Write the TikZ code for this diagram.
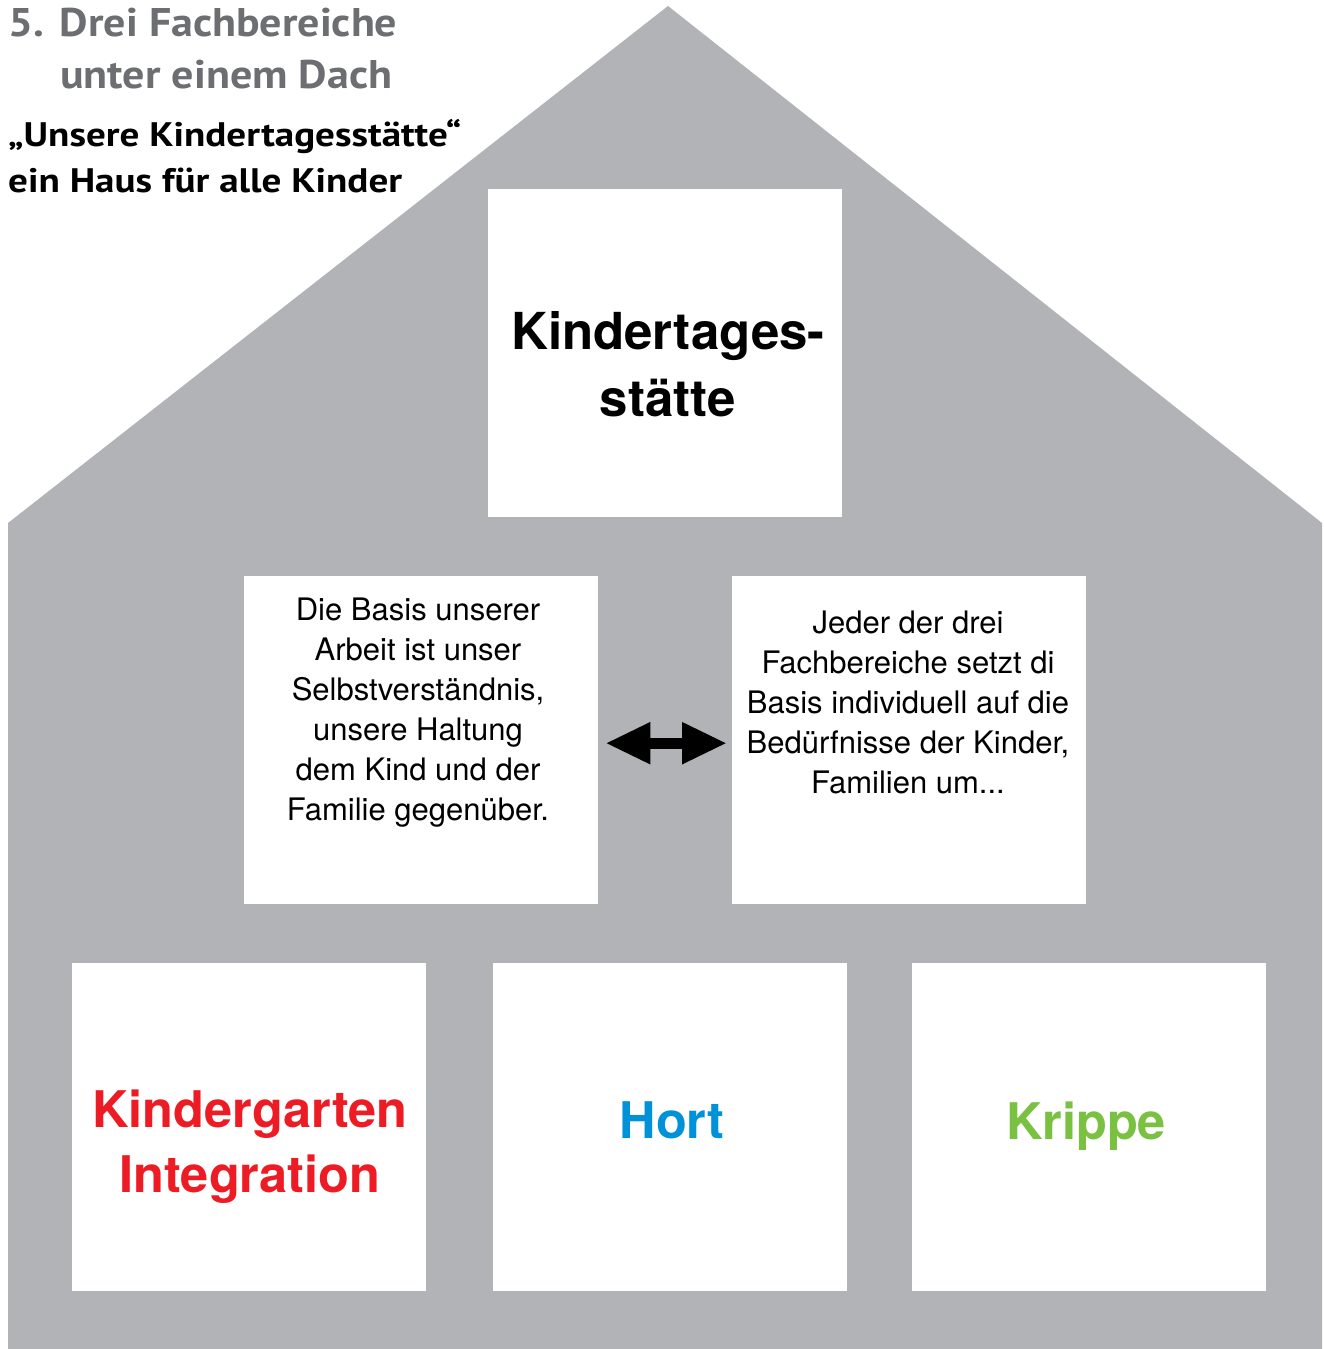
\documentclass[tikz,border=0pt]{standalone}
\usepackage{fontspec}
\usepackage{xcolor}
\setmainfont{TeX Gyre Heros}
\newfontfamily\headfont[FakeStretch=1.1]{PT Sans}
\newfontfamily\subheadfont[FakeStretch=1.15]{PT Sans}
\usetikzlibrary{arrows.meta,positioning}

\definecolor{housegray}{RGB}{178,179,183}
\definecolor{titlegray}{RGB}{109,110,114}
\definecolor{kgred}{RGB}{237,28,36}
\definecolor{hortblue}{RGB}{0,146,216}
\definecolor{krippegreen}{RGB}{122,193,66}

\tikzset{
  roombox/.style={fill=white, inner sep=0pt, minimum width=354pt, minimum height=328pt, anchor=north west},
  bodytext/.style={inner sep=0pt, align=center, font=\fontsize{31}{40}\selectfont},
  areatext/.style={inner sep=0pt, align=center, font=\bfseries\fontsize{50.5}{65}\selectfont},
  dblarrow/.style={{Triangle[length=45pt,width=39pt]}-{Triangle[length=45pt,width=39pt]}, line width=11pt}
}

\begin{document}
\begin{tikzpicture}[x=1pt,y=-1pt]
            \useasboundingbox (0,0) rectangle (1323,1349);
            % House body with roof
            \fill[housegray] (8,1349) -- (8,523) -- (668,6) -- (1322,523) -- (1322,1349) -- cycle;
            % Headings
            \node[anchor=north west, inner sep=0pt, align=left, text=titlegray,
                  font=\headfont\bfseries\fontsize{40}{52}\selectfont] (title) at (8,8)
                  {5.\hspace{0.4em}Drei Fachbereiche\\\hspace*{52pt}unter einem Dach};
            \node[anchor=north west, inner sep=0pt, align=left,
                  font=\subheadfont\bfseries\fontsize{34}{46}\selectfont] (subtitle) at (8,119)
                  {„Unsere Kindertagesstätte“\\ein Haus für alle Kinder};
            % Rooms
            \node[roombox] (kitabox) at (488,189) {};
            \node[roombox] (basisbox) at (244,576) {};
            \node[roombox] (fachbox) at (732,576) {};
            \node[roombox] (kgbox) at (72,963) {};
            \node[roombox] (hortbox) at (493,963) {};
            \node[roombox] (krippebox) at (912,963) {};
            % Texts
            \node[areatext, font=\bfseries\fontsize{51}{67}\selectfont] (kita) at (668,364) {Kindertages-\\stätte};
            \node[bodytext] (basis) at (418,713) {Die Basis unserer\\Arbeit ist unser\\Selbstverständnis,\\unsere Haltung\\dem Kind und der\\Familie gegenüber.};
            \node[bodytext] (fach) at (908,702) {Jeder der drei\\Fachbereiche setzt di\\Basis individuell auf die\\Bedürfnisse der Kinder,\\Familien um...};
            \node[areatext, text=kgred] (kg) at (250,1147) {Kindergarten\\Integration};
            \node[areatext, text=hortblue] (hort) at (672,1120) {Hort};
            \node[areatext, text=krippegreen] (krippe) at (1086,1126) {Krippe};
            % Double arrow between the middle rooms
            \draw[dblarrow, shorten <=7pt, shorten >=5pt] ([yshift=-3pt]basisbox.east) -- ([yshift=-3pt]fachbox.west);
\end{tikzpicture}
\end{document}
